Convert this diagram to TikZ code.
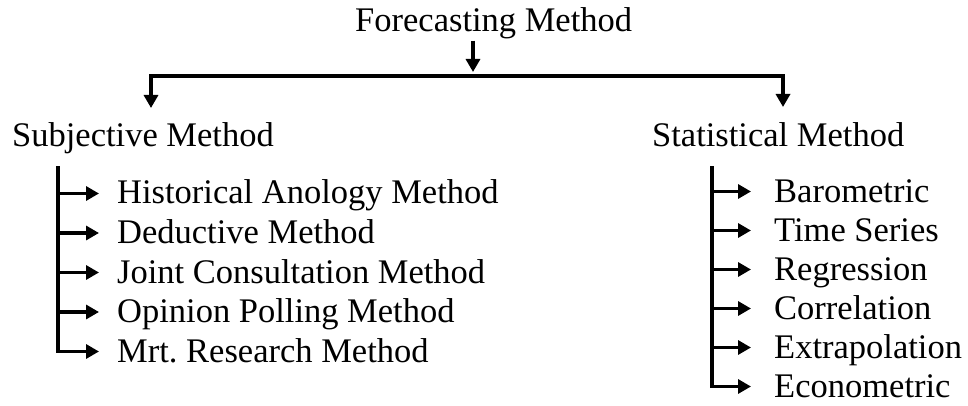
\documentclass[tikz,border=0pt]{standalone}
\usepackage{fontspec}
\setmainfont{Liberation Serif}
\usetikzlibrary{arrows.meta}
\begin{document}
\begin{tikzpicture}[x=1pt,y=1pt,
  itemtext/.style={inner sep=0pt, anchor=base west, text=black,
    font=\fontsize{34.5}{40}\selectfont},
  trunk/.style={line width=3.2pt, line cap=rect},
  arr/.style={line width=3.2pt, -{Triangle[length=13pt,width=14pt]}},
  fork/.style={line width=3.2pt, line join=miter,
    {Triangle[length=13pt,width=14pt]}-{Triangle[length=13pt,width=14pt]}},
]
\useasboundingbox (0,0) rectangle (968,-406);

% headings
\node[itemtext] (fm)  at (355,-32)  {Forecasting Method};
\node[itemtext] (sm)  at (12,-147)  {Subjective Method};
\node[itemtext] (stm) at (652,-147) {Statistical Method};

% split from the main heading into the two branches
\coordinate (split) at (473,-76);
\coordinate (bl) at (151,-76);
\coordinate (br) at (783,-76);
\draw[arr] (fm.south -| split) ++(0,-1) -- ([yshift=4pt]split);
\draw[fork] ([yshift=-32pt]bl) -- (bl) -- (br) -- ([yshift=-31pt]br);

% subjective methods
\coordinate (ltop) at (58,-168);
\foreach \t [count=\i] in {Historical Anology Method, Deductive Method,
    Joint Consultation Method, Opinion Polling Method, Mrt.\ Research Method} {
  \node[itemtext] (s\i) at (117,{-204-39.5*(\i-1)}) {\t};
  \path (s\i.base west) ++(0,10.5) coordinate (sa\i);
  \draw[arr] (sa\i -| ltop) -- ([xshift=-18pt]sa\i);
}
\draw[trunk] (ltop) -- (sa5 -| ltop);

% statistical methods
\coordinate (rtop) at (712,-168);
\foreach \t [count=\i] in {Barometric, Time Series, Regression,
    Correlation, Extrapolation, Econometric} {
  \node[itemtext] (t\i) at (774,{-202-39*(\i-1)}) {\t};
  \path (t\i.base west) ++(0,10.5) coordinate (ta\i);
  \draw[arr] (ta\i -| rtop) -- ([xshift=-23pt]ta\i);
}
\draw[trunk] (rtop) -- (ta6 -| rtop);
\end{tikzpicture}
\end{document}
